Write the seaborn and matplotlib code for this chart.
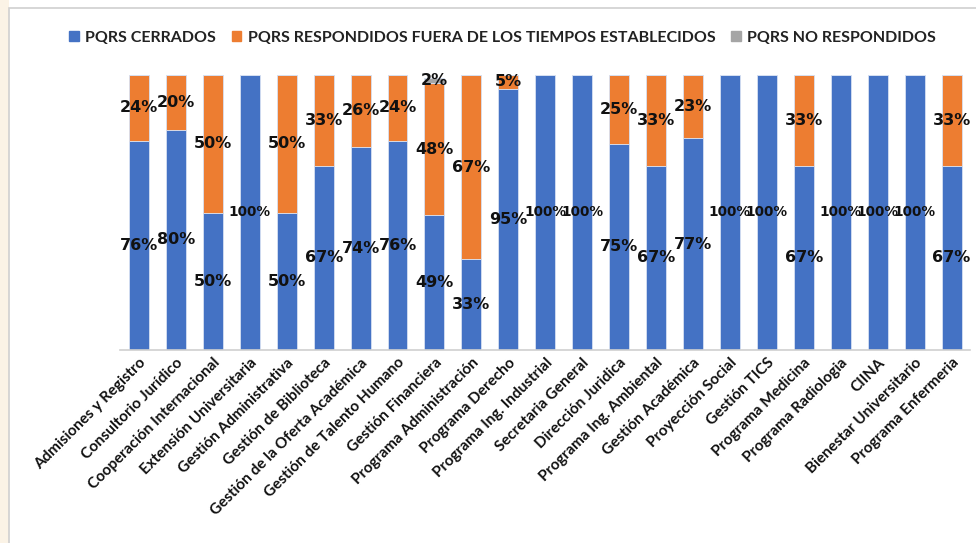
import matplotlib
matplotlib.use("Agg")
import matplotlib.pyplot as plt
import matplotlib.patches as mpatches
import seaborn as sns
import numpy as np

categories = [
    "Admisiones y Registro", "Consultorio Jurídico", "Cooperación Internacional",
    "Extensión Universitaria", "Gestión Administrativa", "Gestión de Biblioteca",
    "Gestión de la Oferta Académica", "Gestión de Talento Humano", "Gestión Financiera",
    "Programa Administración", "Programa Derecho", "Programa Ing. Industrial",
    "Secretaria General", "Dirección Juridica", "Programa Ing. Ambiental",
    "Gestión Académica", "Proyección Social", "Gestión TICS", "Programa Medicina",
    "Programa Radiologia", "CIINA", "Bienestar Universitario", "Programa Enfermeria",
]
cerrados = [76, 80, 50, 100, 50, 67, 74, 76, 49, 33, 95, 100, 100, 75, 67, 77, 100, 100, 67, 100, 100, 100, 67]
fuera = [24, 20, 50, 0, 50, 33, 26, 24, 48, 67, 5, 0, 0, 25, 33, 23, 0, 0, 33, 0, 0, 0, 33]
no_resp = [0, 0, 0, 0, 0, 0, 0, 0, 2, 0, 0, 0, 0, 0, 0, 0, 0, 0, 0, 0, 0, 0, 0]

series_names = ["PQRS CERRADOS", "PQRS RESPONDIDOS FUERA DE LOS TIEMPOS ESTABLECIDOS", "PQRS NO RESPONDIDOS"]
colors = ["#4472C4", "#ED7D31", "#A5A5A5"]

sns.set_theme(style="white")
plt.rcParams["font.family"] = ["DejaVu Sans"]

fig = plt.figure(figsize=(9.76, 5.43), dpi=100)
fig.patch.set_facecolor("white")
# left beige strip and frame
fig.add_artist(mpatches.Rectangle((0, 0), 9/976, 1, transform=fig.transFigure,
                                  facecolor="#FBF3E6", edgecolor="none", zorder=0))
fig.add_artist(mpatches.Rectangle((9/976, -0.01), 1, 1 - 8/543 + 0.01, transform=fig.transFigure,
                                  facecolor="none", edgecolor="#D0D0D0", lw=1.2, zorder=0))

ax = fig.add_axes([120.5/976, 1 - 350/543, (970 - 120.5)/976, (350 - 75)/543])

data_series = [cerrados, fuera, no_resp]
bottom = np.zeros(len(categories))
for vals, name, col in zip(data_series, series_names, colors):
    vals = np.array(vals, dtype=float)
    sns.barplot(x=categories, y=vals, bottom=bottom, color=col, width=0.54,
                ax=ax, edgecolor="#D6E0F2", linewidth=0.6, saturation=1)
    for i, v in enumerate(vals):
        if v > 0:
            ax.text(i, bottom[i] + v / 2, f"{int(v)}%", ha="center", va="center",
                    fontsize=11.5 if v < 100 else 9.8, fontweight="bold",
                    color="#111111", zorder=5)
    bottom = bottom + vals

if ax.get_legend() is not None:
    ax.get_legend().remove()

ax.set_xlim(-0.5, 22.5)
ax.set_ylim(0, 100)
ax.set_yticks([])
ax.set_ylabel("")
for s in ["top", "right", "left"]:
    ax.spines[s].set_visible(False)
ax.spines["bottom"].set_color("#D0D0D0")
ax.spines["bottom"].set_linewidth(1.2)
ax.tick_params(axis="x", length=0, pad=4)
ax.set_xticks(range(len(categories)))
ax.set_xticklabels(categories, rotation=45, ha="right", rotation_mode="anchor",
                   fontsize=11, fontweight="bold", family=["Lato", "DejaVu Sans"], color="#111111")

handles = [mpatches.Patch(color=c, label=n) for c, n in zip(colors, series_names)]
leg = fig.legend(handles=handles, loc="center", bbox_to_anchor=(0.515, 1 - 38/543), ncol=3,
                 frameon=False, handlelength=0.6, handleheight=0.6, handletextpad=0.4,
                 columnspacing=1.0, prop={"family": ["Lato", "DejaVu Sans"], "weight": "bold", "size": 11.5})
for t in leg.get_texts():
    t.set_color("#222222")

fig.savefig("out.png", dpi=100, facecolor=fig.get_facecolor())
